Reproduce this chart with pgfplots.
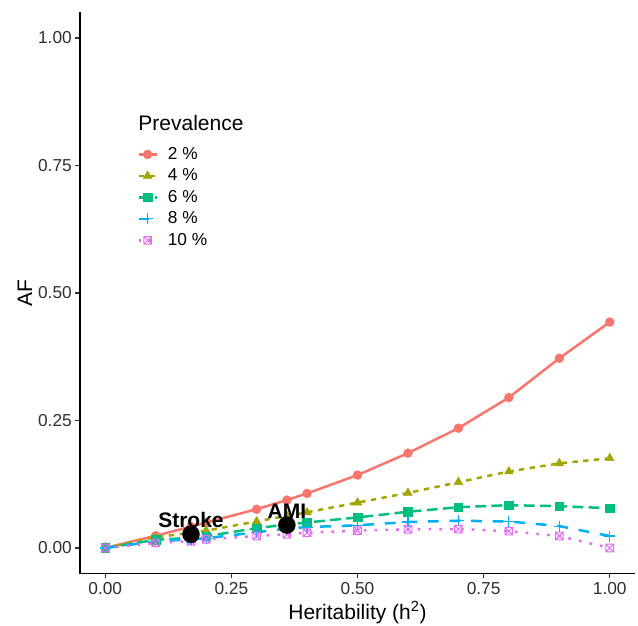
\documentclass[border=0pt]{standalone}
\usepackage{pgfplots}
\pgfplotsset{compat=1.18}
\usepackage{pgfplotstable}
\usepackage{fontspec}
\setmainfont{Liberation Sans}
\definecolor{cA}{HTML}{F8766D}
\definecolor{cB}{HTML}{A3A500}
\definecolor{cC}{HTML}{00BF7D}
\definecolor{cD}{HTML}{00B0F6}
\definecolor{cE}{HTML}{E76BF3}
\pgfdeclareplotmark{boxx}{%
  \pgfpathrectangle{\pgfpoint{-\pgfplotmarksize}{-\pgfplotmarksize}}{\pgfpoint{2\pgfplotmarksize}{2\pgfplotmarksize}}%
  \pgfpathmoveto{\pgfpoint{-\pgfplotmarksize}{-\pgfplotmarksize}}%
  \pgfpathlineto{\pgfpoint{\pgfplotmarksize}{\pgfplotmarksize}}%
  \pgfpathmoveto{\pgfpoint{-\pgfplotmarksize}{\pgfplotmarksize}}%
  \pgfpathlineto{\pgfpoint{\pgfplotmarksize}{-\pgfplotmarksize}}%
  \pgfusepathqstroke}
\pgfplotstableread{
h     p2     p4     p6     p8      p10
0.00  0.000  0.000  0.000  0.000   0.000
0.10  0.024  0.021  0.016  0.013   0.010
0.17  0.042  0.030  0.020  0.017   0.013
0.20  0.050  0.034  0.023  0.019   0.017
0.30  0.076  0.052  0.039  0.031   0.0235
0.36  0.094  0.063  0.046  0.038   0.027
0.40  0.107  0.070  0.050  0.041   0.030
0.50  0.143  0.089  0.060  0.0445  0.034
0.60  0.186  0.108  0.071  0.051   0.0367
0.70  0.235  0.129  0.080  0.0535  0.037
0.80  0.295  0.150  0.084  0.052   0.033
0.90  0.372  0.166  0.082  0.043   0.0235
1.00  0.443  0.176  0.078  0.0235  0.000
}\datatab
\pgfplotstableread{
h     af     lab
0.17  0.027  Stroke
0.36  0.045  AMI
}\diseases
\begin{document}
\begin{tikzpicture}
\path[use as bounding box] (0,0) rectangle (638bp,626bp);
\begin{axis}[
  at={(80bp,52.5bp)}, anchor=south west,
  scale only axis, width=555bp, height=561bp,
  xmin=-0.05, xmax=1.05, ymin=-0.05, ymax=1.05,
  axis x line*=bottom, axis y line*=left,
  axis line style={-, line width=1.1bp, black},
  xtick={0,0.25,0.5,0.75,1}, ytick={0,0.25,0.5,0.75,1},
  tick align=outside, major tick length=5bp,
  tick style={line width=1.1bp, black!80},
  /pgf/number format/assume math mode=true,
  /pgf/number format/.cd, fixed, fixed zerofill, precision=2, /pgfplots/.cd,
  ticklabel style={font=\fontsize{17.3bp}{20bp}\selectfont, text=black!82},
  xticklabel style={inner sep=0pt, anchor=north, yshift=-4bp},
  yticklabel style={inner sep=0pt, anchor=east, xshift=-3bp},
  xlabel={Heritability (h\textsuperscript{2})},
  ylabel={AF},
  label style={font=\fontsize{21bp}{25bp}\selectfont},
  xlabel style={anchor=center, at={(axis description cs:0.5,-0.0694)}},
  ylabel style={anchor=center, at={(axis description cs:-0.0995,0.5)}},
  legend cell align=left,
  legend style={draw=none, fill=none, at={(axis description cs:0.103,0.763)}, anchor=north west,
    font=\fontsize{17.3bp}{20bp}\selectfont, inner sep=0pt,
    nodes={inner sep=1bp, text height=12.5bp, text depth=3bp}, row sep=4bp, column sep=9bp},
  legend image code/.code={\draw[mark repeat=2, mark phase=2] plot coordinates {(0bp,0bp) (9bp,0bp) (18bp,0bp)};},
  every axis plot/.append style={line width=2.5bp, line cap=butt},
]
\addplot[cA, solid, mark=*, mark size=3.4bp, mark options={solid}] table[x=h, y=p2] {\datatab};
\addlegendentry{2 \%}
\addplot[cB, dash pattern=on 5.4bp off 5.4bp, mark=triangle*, mark size=5bp, mark options={solid, line width=0.5bp}] table[x=h, y=p4] {\datatab};
\addlegendentry{4 \%}
\addplot[cC, dash pattern=on 10.8bp off 5.4bp, mark=square*, mark size=4.3bp, mark options={solid, line width=0.5bp}] table[x=h, y=p6] {\datatab};
\addlegendentry{6 \%}
\addplot[cD, dash pattern=on 10.8bp off 10.8bp, mark=+, mark size=5.5bp, mark options={solid, line width=1.1bp}] table[x=h, y=p8] {\datatab};
\addlegendentry{8 \%}
\addplot[cE, dash pattern=on 2.7bp off 8.1bp, mark=boxx, mark size=3.8bp, mark options={solid, line width=1bp}] table[x=h, y=p10] {\datatab};
\addlegendentry{10 \%}
\addplot[black, only marks, mark=*, mark size=7.5bp,
  point meta=explicit symbolic,
  nodes near coords, every node near coord/.style={anchor=base, yshift=6.5bp, inner sep=0pt, text=black, font=\fontsize{21bp}{25bp}\selectfont\bfseries}]
  table[x=h, y=af, meta=lab] {\diseases};
\node[anchor=west, inner sep=0pt, font=\fontsize{21bp}{25bp}\selectfont] at (axis description cs:0.1049,0.8025) {Prevalence};
\end{axis}
\end{tikzpicture}
\end{document}
